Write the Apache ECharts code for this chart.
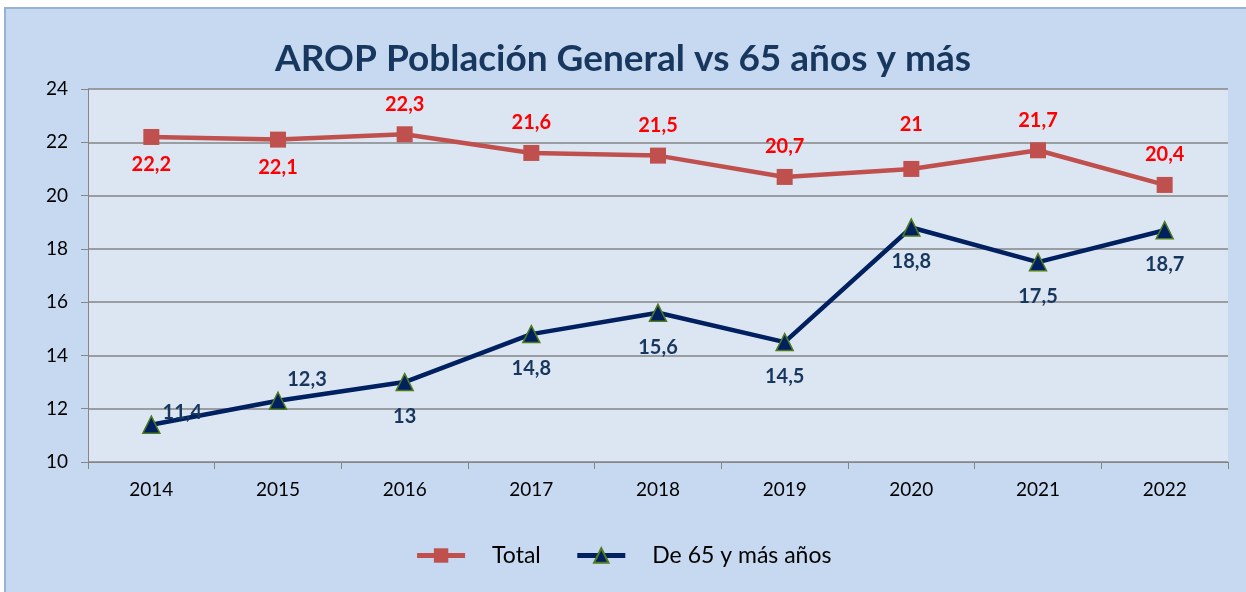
<!DOCTYPE html>
<html>
<head>
<meta charset="utf-8">
<script src="https://cdn.jsdelivr.net/npm/echarts@6/dist/echarts.min.js"></script>
<style>
  html, body { margin: 0; padding: 0; background: #ffffff; }
  #main { width: 1246px; height: 592px; }
</style>
</head>
<body>
<div id="main"></div>
<script>
// años
var years = ['2014', '2015', '2016', '2017', '2018', '2019', '2020', '2021', '2022'];
// población general
var totalData = [22.2, 22.1, 22.3, 21.6, 21.5, 20.7, 21, 21.7, 20.4];
// 65 y más
var mayoresData = [11.4, 12.3, 13, 14.8, 15.6, 14.5, 18.8, 17.5, 18.7];
var seriesNames = ['Total', 'De 65 y más años'];

var fontFam = 'Lato, "Open Sans", sans-serif';

function coma(p) {
    return String(p.value).replace('.', ',');
}

// etiquetas por punto (posición igual que en la imagen)
var totalPoints = totalData.map(function (v, i) {
    var item = { value: v };
    if (i < 2) {
        item.label = { position: 'bottom', distance: 10 };
    }
    if (v === 21) {
        item.label = { position: 'top', distance: 26 };
    }
    return item;
});
var mayoresPoints = mayoresData.map(function (v, i) {
    var item = { value: v };
    if (i === 0) item.label = { position: 'right', distance: 2, offset: [0, -12] };
    if (i === 1) item.label = { position: 'right', distance: 0, offset: [0, -21] };
    return item;
});

var option = {
    backgroundColor: '#ffffff',
    graphic: [{
        type: 'rect',
        z: -10,
        shape: { x: 5, y: 8, width: 1245, height: 590 },
        style: { fill: '#c6d9f0', stroke: '#95b3d7', lineWidth: 2 }
    }],
    title: {
        text: 'AROP Población General vs 65 años y más',
        left: 'center',
        top: 36,
        textStyle: {
            color: '#17375e',
            fontSize: 37,
            fontWeight: 'bold',
            fontFamily: fontFam
        }
    },
    legend: {
        bottom: 20,
        left: 'center',
        itemWidth: 48,
        itemHeight: 18,
        itemGap: 34,
        data: seriesNames,
        lineStyle: { width: 5 },
        textStyle: {
            color: '#000000',
            fontSize: 23,
            fontFamily: fontFam,
            padding: [0, 0, 0, 22]
        }
    },
    grid: {
        left: 88,
        right: 18,
        top: 89,
        bottom: 130,
        show: true,
        backgroundColor: '#dce6f2',
        borderWidth: 0
    },
    xAxis: {
        type: 'category',
        data: years,
        boundaryGap: true,
        axisLine: { lineStyle: { color: '#868686', width: 1 } },
        axisTick: { show: true, length: 7, inside: false, lineStyle: { color: '#868686' } },
        axisLabel: { color: '#000000', fontSize: 19, margin: 18, fontFamily: fontFam },
        splitLine: { show: false }
    },
    yAxis: {
        type: 'value',
        min: 10,
        max: 24,
        interval: 2,
        axisLine: { show: true, lineStyle: { color: '#868686', width: 1 } },
        axisTick: { show: true, length: 7, lineStyle: { color: '#868686' } },
        axisLabel: { color: '#000000', fontSize: 19, margin: 20, fontFamily: fontFam },
        splitLine: { show: true, lineStyle: { color: '#868686', width: 1.5 } }
    },
    series: [
        {
            name: seriesNames[0],
            type: 'line',
            data: totalPoints,
            symbol: 'rect',
            symbolSize: 16,
            lineStyle: { color: '#c0504d', width: 4.5 },
            itemStyle: { color: '#c0504d' },
            label: {
                show: true,
                position: 'top',
                distance: 12,
                formatter: coma,
                color: '#ff0000',
                fontSize: 20,
                fontWeight: 'bold',
                fontFamily: fontFam
            }
        },
        {
            name: seriesNames[1],
            type: 'line',
            data: mayoresPoints,
            symbol: 'triangle',
            symbolSize: 17,
            lineStyle: { color: '#002060', width: 4.5 },
            itemStyle: { color: '#002060', borderColor: '#4f7a1e', borderWidth: 1.5 },
            label: {
                show: true,
                position: 'bottom',
                distance: 15,
                formatter: coma,
                color: '#17375e',
                fontSize: 20,
                fontWeight: 'bold',
                fontFamily: fontFam
            }
        }
    ]
};

var chart = echarts.init(document.getElementById('main'));
chart.setOption(option);
</script>
</body>
</html>
